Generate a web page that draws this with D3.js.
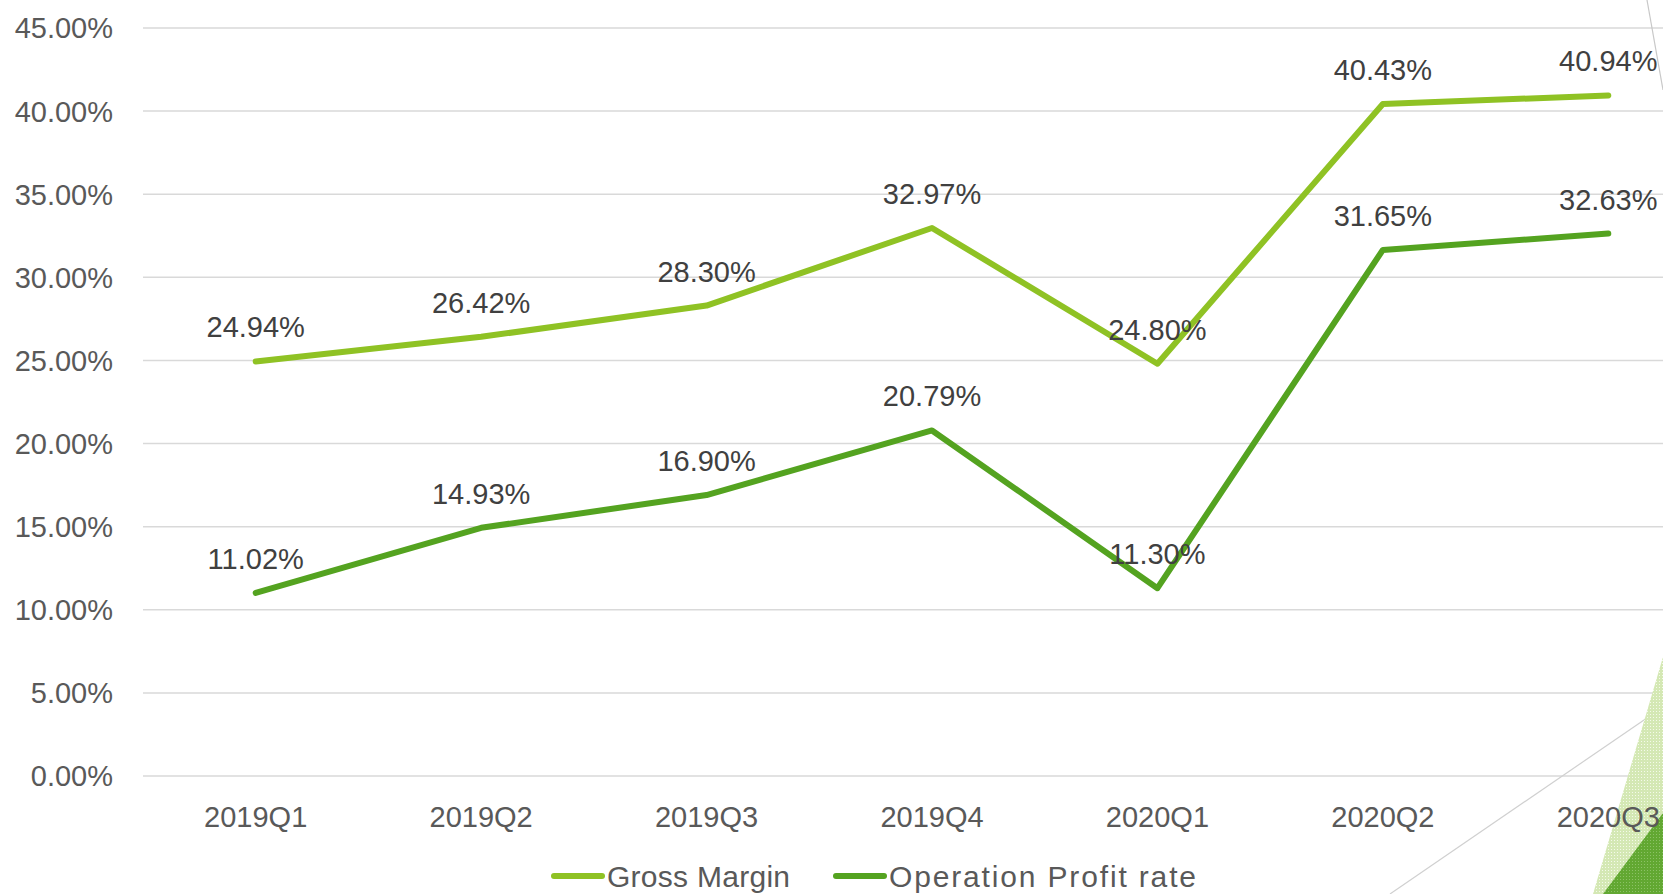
<!DOCTYPE html>
<html>
<head>
<meta charset="utf-8">
<script src="https://cdn.jsdelivr.net/npm/d3@7"></script>
<style>
  html, body { margin: 0; padding: 0; background: #fff; overflow: hidden; }
  text { font-family: "Liberation Sans", Arial, sans-serif; }
</style>
</head>
<body>
<svg id="chart" width="1663" height="894"></svg>
<script>
const quarters = ["2019Q1", "2019Q2", "2019Q3", "2019Q4", "2020Q1", "2020Q2", "2020Q3"];
const grossMargin = [24.94, 26.42, 28.30, 32.97, 24.80, 40.43, 40.94];
const opProfitRate = [11.02, 14.93, 16.90, 20.79, 11.30, 31.65, 32.63];
const yTicks = [0, 5, 10, 15, 20, 25, 30, 35, 40, 45];

const series = [
  { name: "Gross Margin", values: grossMargin, color: "#8fc224", textLen: 183 },
  { name: "Operation Profit rate", values: opProfitRate, color: "#54a320", textLen: 307 }
];

const W = 1663, H = 894;
const margin = { top: 28, left: 143, bottom: 118 };
const plotRight = 1721;   // plot area runs past the window edge

const svg = d3.select("#chart");

// slide decoration (bottom-right / top-right)
const defs = svg.append("defs");
const pat1 = defs.append("pattern").attr("id", "dotsLight")
  .attr("width", 3).attr("height", 3).attr("patternUnits", "userSpaceOnUse");
pat1.append("rect").attr("width", 3).attr("height", 3).attr("fill", "#d4e8b4");
pat1.append("rect").attr("width", 1).attr("height", 1).attr("fill", "#f4faea");
const pat2 = defs.append("pattern").attr("id", "dotsDark")
  .attr("width", 3).attr("height", 3).attr("patternUnits", "userSpaceOnUse");
pat2.append("rect").attr("width", 3).attr("height", 3).attr("fill", "#62a832");
pat2.append("rect").attr("width", 1).attr("height", 1).attr("fill", "#8cc266");

const x = d3.scaleBand().domain(quarters).range([margin.left, plotRight]);
const y = d3.scaleLinear().domain([0, 45]).range([H - margin.bottom, margin.top]);

// gridlines
svg.append("g")
  .selectAll("line")
  .data(yTicks)
  .join("line")
  .attr("x1", margin.left).attr("x2", plotRight)
  .attr("y1", d => y(d)).attr("y2", d => y(d))
  .attr("stroke", "#d9d9d9").attr("stroke-width", 1.5);

// decorations
svg.append("path")
  .attr("d", `M${W - 16},0 L${W},90`)
  .attr("stroke", "#c8c8c8").attr("stroke-width", 1.2).attr("fill", "none");
svg.append("path")
  .attr("d", `M1390,${H} L${W},707`)
  .attr("stroke", "#d0d0d0").attr("stroke-width", 1.2).attr("fill", "none");
svg.append("path")
  .attr("d", `M1593,${H} L${W},657 L${W},${H} Z`)
  .attr("fill", "url(#dotsLight)");
svg.append("path")
  .attr("d", `M1603,${H} L${W},813 L${W},${H} Z`)
  .attr("fill", "url(#dotsDark)");

// y axis labels
svg.append("g")
  .selectAll("text")
  .data(yTicks)
  .join("text")
  .attr("x", 113)
  .attr("y", d => y(d))
  .attr("dy", "0.36em")
  .attr("text-anchor", "end")
  .attr("font-size", 29)
  .attr("fill", "#595959")
  .text(d => d3.format(".2f")(d) + "%");

// x axis labels
svg.append("g")
  .selectAll("text")
  .data(quarters)
  .join("text")
  .attr("x", d => x(d) + x.bandwidth() / 2)
  .attr("y", 827)
  .attr("text-anchor", "middle")
  .attr("font-size", 29)
  .attr("fill", "#595959")
  .text(d => d);

const cx = (d, i) => x(quarters[i]) + x.bandwidth() / 2;
const line = d3.line().x(cx).y(d => y(d));

// lines
svg.append("g")
  .selectAll("path")
  .data(series)
  .join("path")
  .attr("d", s => line(s.values))
  .attr("fill", "none")
  .attr("stroke", s => s.color)
  .attr("stroke-width", 6)
  .attr("stroke-linecap", "round")
  .attr("stroke-linejoin", "round");

// data labels
series.forEach(s => {
  svg.append("g")
    .selectAll("text")
    .data(s.values)
    .join("text")
    .attr("x", cx)
    .attr("y", d => y(d) - 24)
    .attr("text-anchor", "middle")
    .attr("font-size", 29)
    .attr("fill", "#404040")
    .text(d => d3.format(".2f")(d) + "%");
});

// legend
const legend = svg.append("g");
let lx = 554;
series.forEach(s => {
  legend.append("line")
    .attr("x1", lx).attr("x2", lx + 48)
    .attr("y1", 876).attr("y2", 876)
    .attr("stroke", s.color).attr("stroke-width", 6)
    .attr("stroke-linecap", "round");
  legend.append("text")
    .attr("x", lx + 53)
    .attr("y", 876)
    .attr("dy", "0.36em")
    .attr("font-size", 30)
    .attr("fill", "#595959")
    .attr("textLength", s.textLen)
    .text(s.name);
  lx += 53 + s.textLen + 46;
});
</script>
</body>
</html>
